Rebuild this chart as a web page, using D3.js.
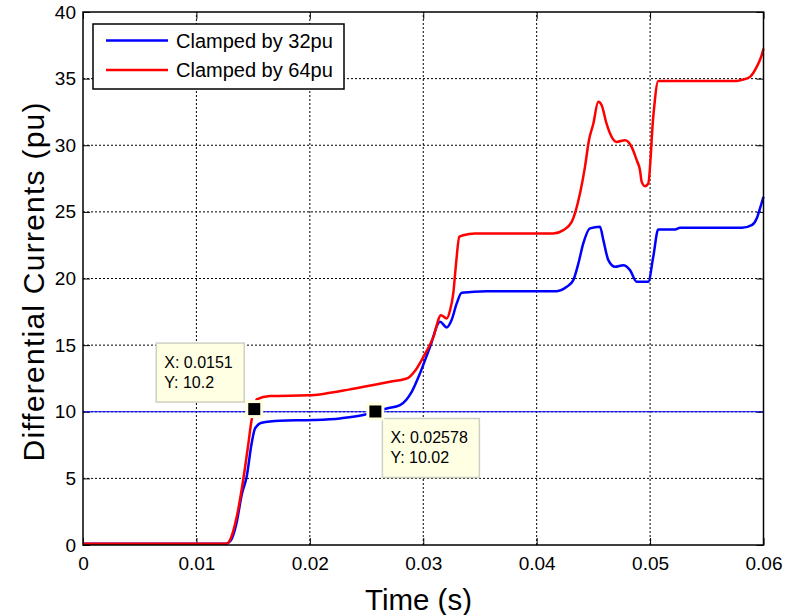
<!DOCTYPE html>
<html>
<head>
<meta charset="utf-8">
<script src="https://cdn.jsdelivr.net/npm/d3@7/dist/d3.min.js"></script>
<style>
  body { margin: 0; background: #fff; }
  text { font-family: "Liberation Sans", Arial, sans-serif; }
</style>
</head>
<body>
<div id="chart"></div>
<script>
'use strict'

// series
const seriesNames = ['Clamped by 32pu', 'Clamped by 64pu'];
const seriesColors = ['#0000ff', '#ff0000'];

const time32 = [0, 0.0060, 0.0126, 0.0130, 0.01355, 0.0140, 0.01443, 0.01487, 0.01517,
  0.01576, 0.01737, 0.0203, 0.02266, 0.02471, 0.02578, 0.02678, 0.02795, 0.02898,
  0.02971, 0.0306, 0.03148, 0.03207, 0.0325, 0.03295, 0.03339, 0.0356, 0.04177,
  0.04265, 0.04323, 0.04367, 0.04411, 0.0447, 0.04558, 0.04588, 0.04632, 0.04691,
  0.04764, 0.04823, 0.04882, 0.04984, 0.05028, 0.05072, 0.0522, 0.05264, 0.05808,
  0.05896, 0.0594, 0.05969, 0.0600];
const current32 = [0.1, 0.1, 0.1, 0.3, 1.7, 3.8, 5.12, 7.63, 8.75,
  9.18, 9.33, 9.38, 9.5, 9.75, 10.02, 10.25, 10.5, 11.5,
  12.88, 14.88, 16.75, 16.33, 16.88, 18.13, 18.93, 19.05, 19.05,
  19.38, 19.88, 21.1, 22.63, 23.76, 23.88, 22.88, 21.38, 20.88,
  21.0, 20.63, 19.75, 19.75, 21.63, 23.68, 23.68, 23.8, 23.8,
  24.0, 24.5, 25.26, 26.13];

const time64 = [0, 0.0060, 0.01266, 0.01296, 0.01355, 0.01414, 0.01458, 0.01487, 0.0151,
  0.01531, 0.01649, 0.01987, 0.0215, 0.02354, 0.0256, 0.02707, 0.02868, 0.0293,
  0.030, 0.03089, 0.03156, 0.03207, 0.03236, 0.03265, 0.03289, 0.03318, 0.03353,
  0.03456, 0.04147, 0.04235, 0.04309, 0.04382, 0.04426, 0.04461, 0.04499, 0.04543,
  0.04573, 0.04617, 0.04661, 0.04705, 0.04779, 0.04837, 0.04882, 0.04911, 0.04926,
  0.04955, 0.04984, 0.05028, 0.05072, 0.05763, 0.05822, 0.05881, 0.0594, 0.05984, 0.0600];
const current64 = [0.1, 0.1, 0.1, 0.375, 2.1, 4.97, 7.6, 9.4, 10.2,
  10.93, 11.18, 11.23, 11.38, 11.68, 12.0, 12.25, 12.55, 13.1,
  14.1, 15.6, 17.25, 17.0, 17.6, 18.9, 21.1, 23.13, 23.25,
  23.38, 23.38, 23.63, 24.25, 26.38, 28.38, 30.38, 31.6, 33.26,
  33.0, 31.6, 30.63, 30.25, 30.38, 29.88, 28.88, 28.13, 27.25,
  26.93, 27.13, 32.13, 34.83, 34.83, 34.93, 35.13, 35.88, 36.76, 37.26];

const xTicks = [0, 0.01, 0.02, 0.03, 0.04, 0.05, 0.06];
const yTicks = [0, 5, 10, 15, 20, 25, 30, 35, 40];
const thresholdValue = 10;

// data tips: [x, y]
const tipPoints = [[0.0151, 10.2], [0.02578, 10.02]];
const tipLabels = [['X: 0.0151', 'Y: 10.2'], ['X: 0.02578', 'Y: 10.02']];

const width = 800;
const height = 615;
const margin = { left: 83, right: 36.5, top: 12, bottom: 70 };

const svg = d3.select('#chart')
  .append('svg')
    .attr('width', width)
    .attr('height', height);

const x = d3.scaleLinear().domain([0, 0.06]).range([margin.left, width - margin.right]);
const y = d3.scaleLinear().domain([0, 40]).range([height - margin.bottom, margin.top]);

// grid
svg.append('g')
  .selectAll('line.vgrid')
  .data(xTicks.slice(1, -1))
  .enter().append('line')
    .attr('x1', d => x(d)).attr('x2', d => x(d))
    .attr('y1', y(0)).attr('y2', y(40))
    .attr('stroke', '#000').attr('stroke-width', 1)
    .attr('stroke-dasharray', '2,2');

svg.append('g')
  .selectAll('line.hgrid')
  .data(yTicks.slice(1, -1))
  .enter().append('line')
    .attr('x1', x(0)).attr('x2', x(0.06))
    .attr('y1', d => y(d)).attr('y2', d => y(d))
    .attr('stroke', '#000').attr('stroke-width', 1)
    .attr('stroke-dasharray', '2,2');

// axes (ticks inward on all sides)
const tickLen = 7;
const axisStyle = g => {
  g.select('.domain').remove();
  g.selectAll('text')
    .attr('font-size', '19px')
    .attr('fill', '#000');
  g.selectAll('line').attr('stroke', '#000');
};

svg.append('g')
  .attr('transform', 'translate(0,' + y(0) + ')')
  .call(d3.axisBottom(x).tickValues(xTicks).tickFormat(d3.format('')).tickSizeInner(-tickLen).tickPadding(12))
  .call(axisStyle);

svg.append('g')
  .attr('transform', 'translate(0,' + y(40) + ')')
  .call(d3.axisTop(x).tickValues(xTicks).tickFormat('').tickSizeInner(-tickLen))
  .call(axisStyle);

svg.append('g')
  .attr('transform', 'translate(' + x(0) + ',0)')
  .call(d3.axisLeft(y).tickValues(yTicks).tickSizeInner(-tickLen).tickPadding(7))
  .call(axisStyle);

svg.append('g')
  .attr('transform', 'translate(' + x(0.06) + ',0)')
  .call(d3.axisRight(y).tickValues(yTicks).tickFormat('').tickSizeInner(-tickLen))
  .call(axisStyle);

// threshold line
svg.append('line')
  .attr('x1', x(0)).attr('x2', x(0.06))
  .attr('y1', y(thresholdValue)).attr('y2', y(thresholdValue))
  .attr('stroke', '#0000ff').attr('stroke-width', 1);

// curves
const line = d3.line()
  .x(d => x(d[0]))
  .y(d => y(d[1]))
  .curve(d3.curveMonotoneX);

const series = [
  d3.zip(time32, current32),
  d3.zip(time64, current64)
];

svg.append('g')
  .selectAll('path')
  .data(series)
  .enter().append('path')
    .attr('d', line)
    .attr('fill', 'none')
    .attr('stroke', (d, i) => seriesColors[i])
    .attr('stroke-width', 2.5)
    .attr('stroke-linejoin', 'round');

// frame
svg.append('rect')
  .attr('x', x(0)).attr('y', y(40))
  .attr('width', x(0.06) - x(0)).attr('height', y(0) - y(40))
  .attr('fill', 'none').attr('stroke', '#000').attr('stroke-width', 1.5);

// data tips
const tipBoxes = [
  { dx: -98, dy: -66, w: 88, h: 59 },
  { dx: 7, dy: 7, w: 97, h: 59 }
];

tipPoints.forEach((p, i) => {
  const px = x(p[0]);
  const py = y(p[1]);
  const b = tipBoxes[i];
  const g = svg.append('g');
  g.append('rect')
    .attr('x', px + b.dx).attr('y', py + b.dy)
    .attr('width', b.w).attr('height', b.h)
    .attr('fill', '#ffffe4').attr('stroke', '#cfcfc4').attr('stroke-width', 1.5);
  g.selectAll('text')
    .data(tipLabels[i])
    .enter().append('text')
      .attr('x', px + b.dx + 8)
      .attr('y', (d, j) => py + b.dy + 25 + j * 20)
      .attr('font-size', '16px')
      .attr('fill', '#000')
      .text(d => d);
  g.append('rect')
    .attr('x', px - 7.5).attr('y', py - 7.5)
    .attr('width', 15).attr('height', 15)
    .attr('fill', '#000').attr('stroke', '#ffffe0').attr('stroke-width', 3);
});

// legend
const legend = svg.append('g').attr('transform', 'translate(93,24)');
legend.append('rect')
  .attr('width', 251).attr('height', 65)
  .attr('fill', '#fff').attr('stroke', '#000').attr('stroke-width', 1.5);

const legendRows = legend.selectAll('g.row')
  .data(seriesNames)
  .enter().append('g')
    .attr('transform', (d, i) => 'translate(0,' + (16.5 + i * 29.5) + ')');

legendRows.append('line')
  .attr('x1', 13).attr('x2', 75)
  .attr('stroke', (d, i) => seriesColors[i])
  .attr('stroke-width', 2.5);

legendRows.append('text')
  .attr('x', 83).attr('y', 7)
  .attr('font-size', '20px')
  .attr('fill', '#000')
  .text(d => d);

// axis labels
svg.append('text')
  .attr('x', 418.5).attr('y', 610)
  .attr('text-anchor', 'middle')
  .attr('font-size', '30px')
  .attr('textLength', 107)
  .attr('lengthAdjust', 'spacingAndGlyphs')
  .text('Time (s)');

svg.append('text')
  .attr('transform', 'translate(44,282) rotate(-90)')
  .attr('text-anchor', 'middle')
  .attr('font-size', '30px')
  .attr('textLength', 359)
  .attr('lengthAdjust', 'spacing')
  .text('Differential Currents (pu)');
</script>
</body>
</html>
